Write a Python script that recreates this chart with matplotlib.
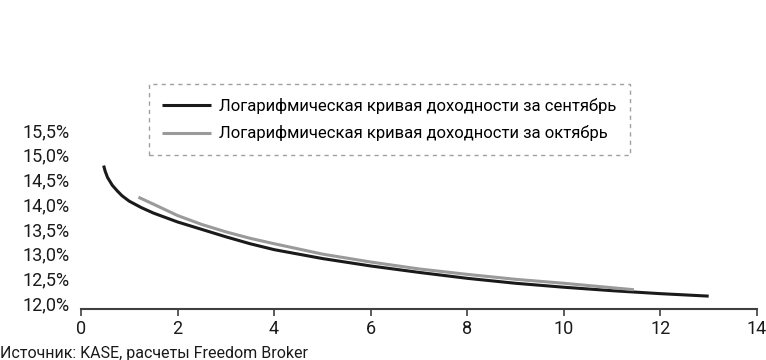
import matplotlib
matplotlib.use("Agg")
import matplotlib.pyplot as plt
from matplotlib.ticker import FuncFormatter

# значения (срок в годах, доходность в %)
sep_x = [0.47, 0.50, 0.55, 0.65, 0.75, 0.85, 1.0, 1.25, 1.5, 2.0, 2.5, 3.0, 3.5, 4.0, 5.0, 6.0, 7.0, 8.0, 9.0, 10.0, 11.0, 12.0, 13.0]
sep_y = [14.78, 14.67, 14.54, 14.38, 14.27, 14.17, 14.06, 13.93, 13.82, 13.64, 13.49, 13.34, 13.20, 13.08, 12.90, 12.75, 12.62, 12.50, 12.40, 12.32, 12.25, 12.19, 12.14]

oct_x = [1.19, 1.5, 2.0, 2.5, 3.0, 3.5, 4.0, 5.0, 6.0, 7.0, 8.0, 9.0, 10.0, 11.0, 11.45]
oct_y = [14.14, 14.00, 13.77, 13.59, 13.44, 13.31, 13.20, 12.99, 12.83, 12.69, 12.58, 12.48, 12.40, 12.31, 12.27]

sep_label = "Логарифмическая кривая доходности за сентябрь"
oct_label = "Логарифмическая кривая доходности за октябрь"
source = "Источник: KASE, расчеты Freedom Broker"

yticks = [12.0, 12.5, 13.0, 13.5, 14.0, 14.5, 15.0, 15.5]
xticks = [0, 2, 4, 6, 8, 10, 12, 14]

plt.rcParams['font.family'] = ['Roboto', 'DejaVu Sans']

fig = plt.figure(figsize=(7.66, 3.6), dpi=100)
ax = fig.add_axes([0.1057, 0.1417, 0.8825, 0.4973])

ax.plot(sep_x, sep_y, color="#1a1a1a", lw=2.2, label=sep_label, solid_capstyle="butt")
ax.plot(oct_x, oct_y, color="#9a9a9a", lw=2.2, label=oct_label, solid_capstyle="butt")

ax.set_xlim(0, 14)
ax.set_ylim(11.88, 15.5)
ax.set_xticks(xticks)
ax.set_yticks(yticks)
ax.yaxis.set_major_formatter(FuncFormatter(lambda v, p: f"{v:.1f}%".replace(".", ",")))

for s in ["top", "right", "left"]:
    ax.spines[s].set_visible(False)
ax.spines["bottom"].set_color("#404040")
ax.spines["bottom"].set_linewidth(1.5)

ax.tick_params(axis="x", direction="out", length=5, width=1.2, color="#404040",
               labelsize=13, pad=3, labelcolor="#1a1a1a")
ax.tick_params(axis="y", length=0, labelsize=13, pad=8, labelcolor="#1a1a1a")

leg = ax.legend(loc="center", bbox_to_anchor=(0.5085, 0.668), bbox_transform=fig.transFigure,
                prop={"size": 12},
                handlelength=2.9, handletextpad=0.5, labelspacing=0.7,
                borderpad=0.8, fancybox=False, frameon=True)
frame = leg.get_frame()
frame.set_edgecolor("#888888")
frame.set_linestyle((0, (3, 3)))
frame.set_linewidth(1.0)

fig.text(0.0, 0.038, source, fontsize=11.5, color="#1a1a1a", va="top", ha="left")

fig.savefig("out.png", dpi=100)
